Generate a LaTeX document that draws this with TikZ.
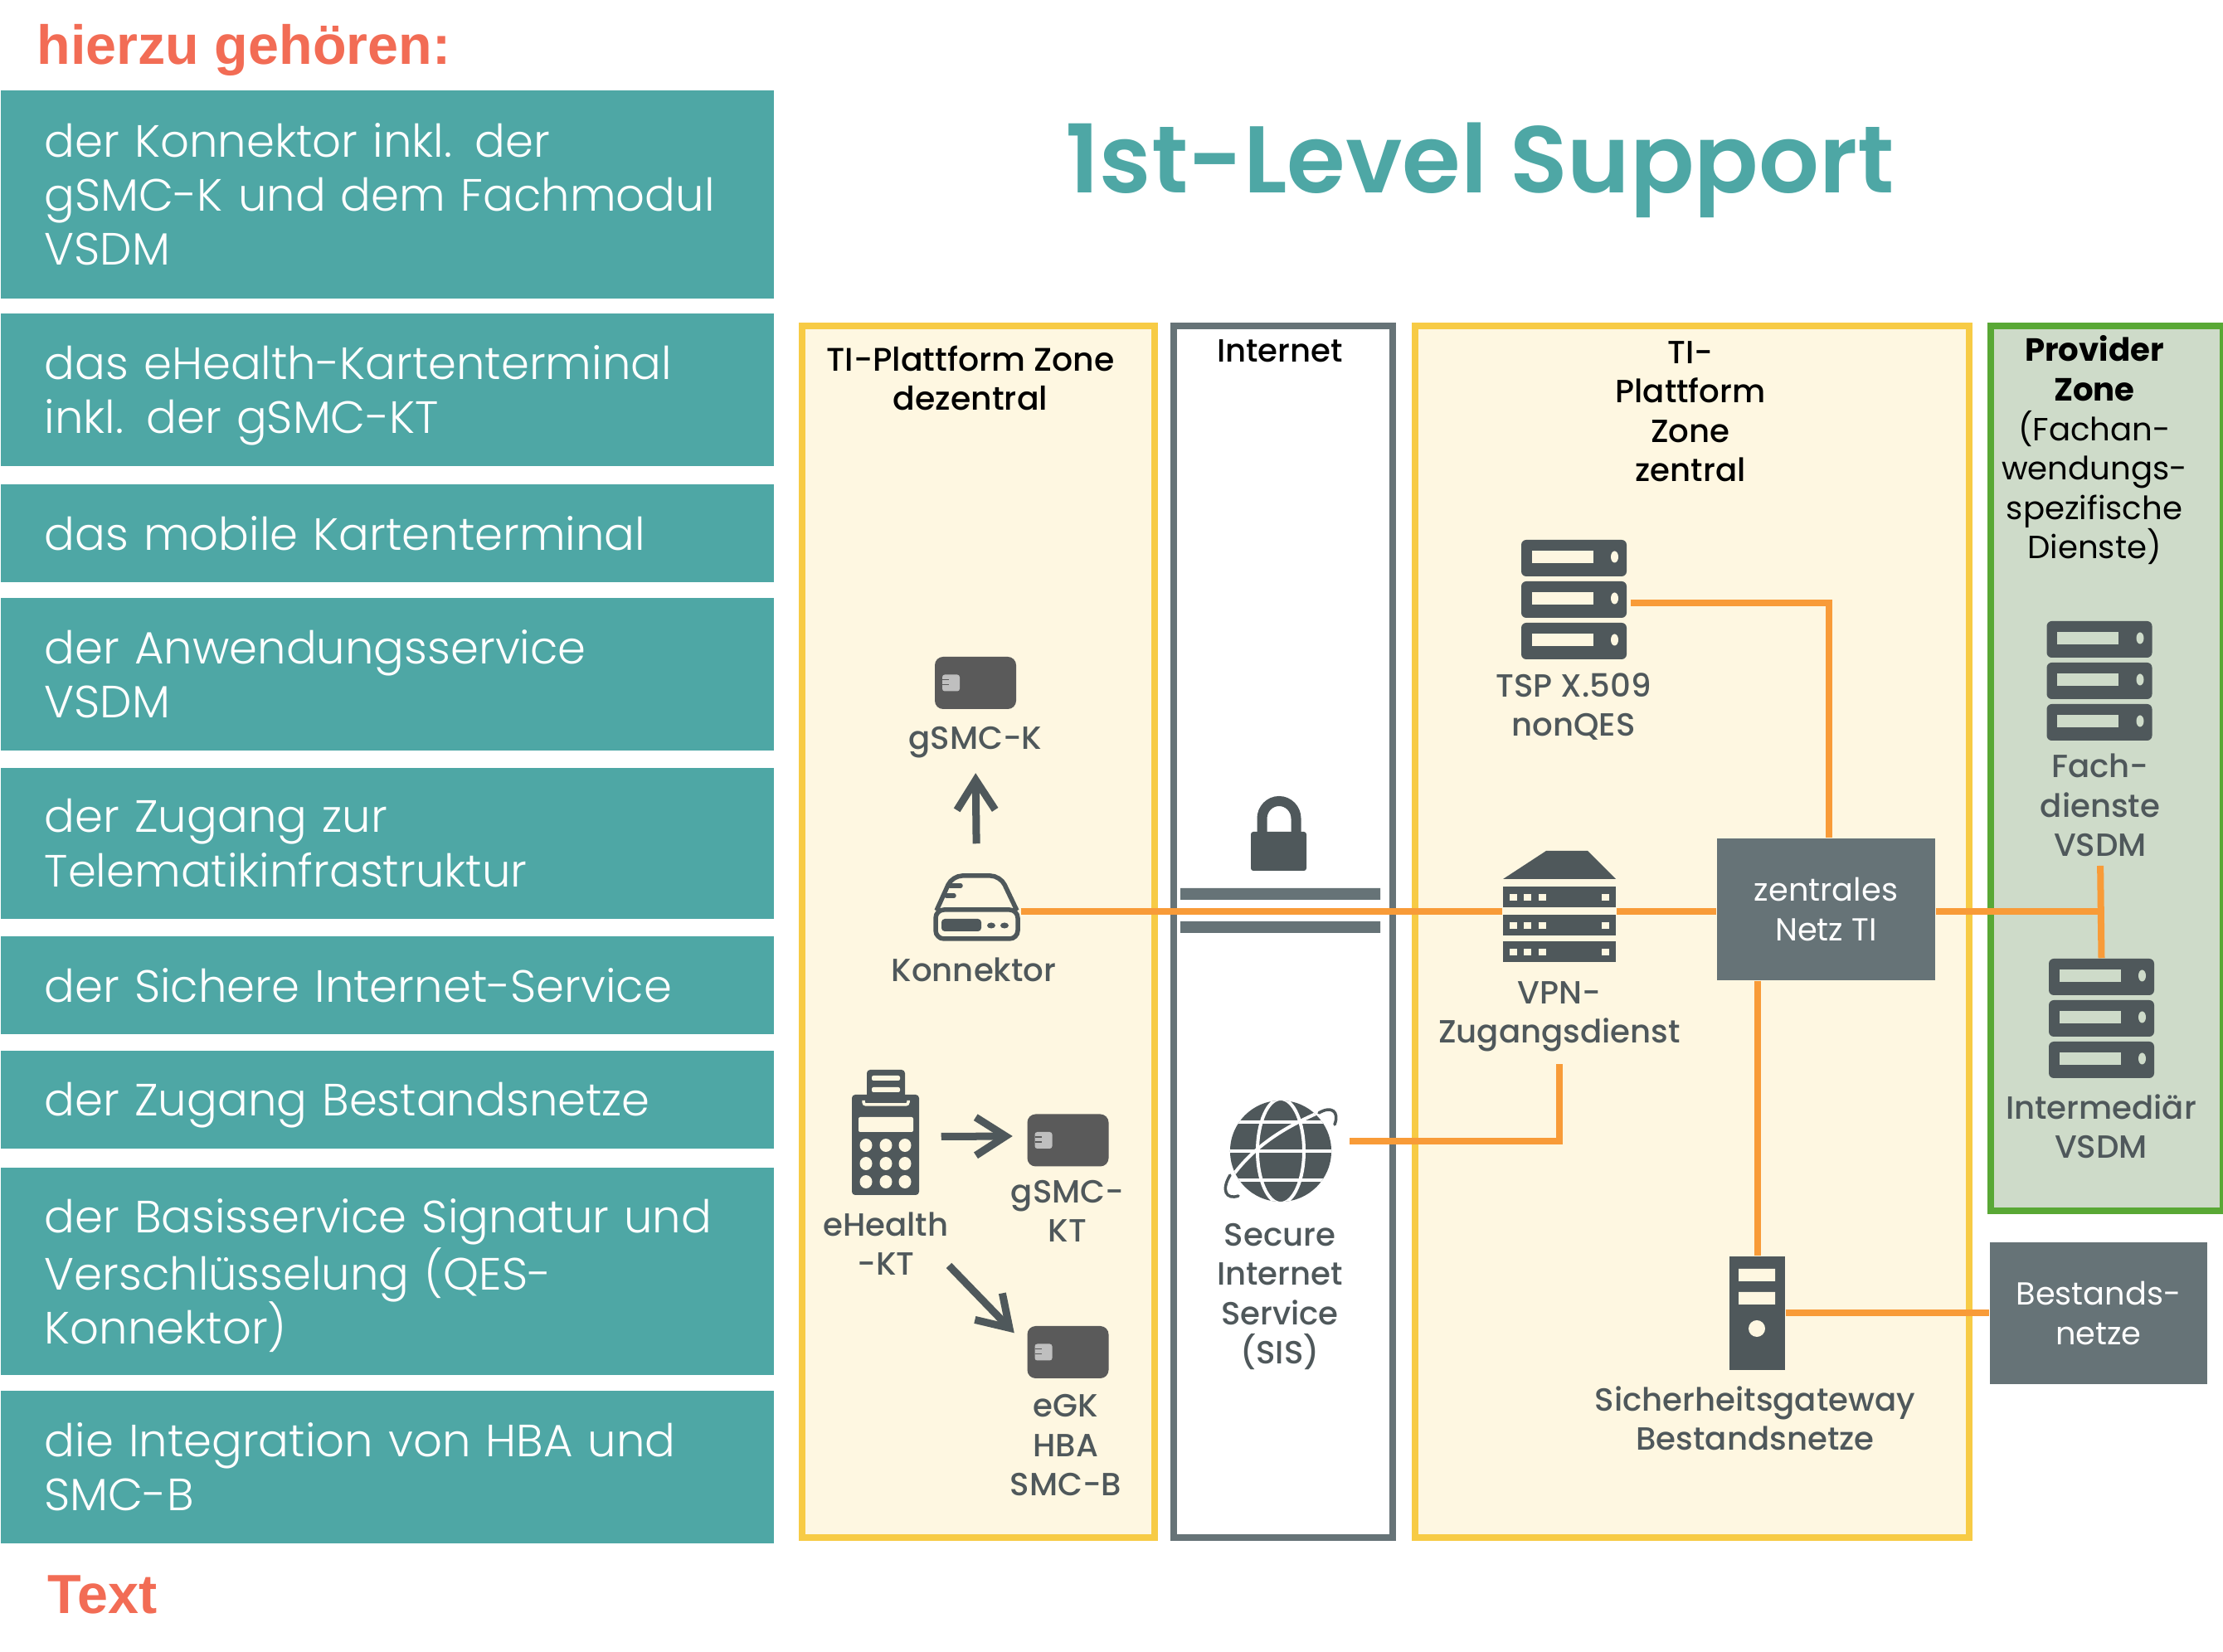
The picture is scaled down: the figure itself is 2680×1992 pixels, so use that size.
\documentclass[tikz,border=0pt]{standalone}
\usepackage{fontspec}
\setmainfont{Poppins}
\newfontfamily\lightfont{Poppins Light}
\newfontfamily\medfont{Poppins Medium}
\newfontfamily\semifont{Poppins SemiBold}
\newfontfamily\arialfont{Liberation Sans}
\usetikzlibrary{arrows.meta}
\definecolor{tealbar}{HTML}{4EA7A5}
\definecolor{coral}{HTML}{F26C55}
\definecolor{txtdark}{HTML}{4F585B}
\definecolor{boxgray}{HTML}{667377}
\definecolor{cardgray}{HTML}{5A5A5A}
\definecolor{linkorange}{HTML}{F89B38}
\definecolor{zoneyellow}{HTML}{F7CB45}
\definecolor{zonecream}{HTML}{FEF7E1}
\definecolor{zonegreen}{HTML}{59A835}
\definecolor{provfill}{HTML}{CEDBC9}
\tikzset{
  listbar/.style={fill=tealbar,text=white,anchor=north west,inner xsep=.53cm,inner ysep=0,
    text width=8.26cm,align=left,minimum height=#1,font=\lightfont\fontsize{15.5}{18.6}\selectfont},
  zone/.style={draw=zoneyellow,fill=zonecream,line width=.08cm,anchor=north west,inner sep=0},
  lbl/.style={text=txtdark,align=center,inner sep=0,anchor=base,font=\medfont\fontsize{11}{13.55}\selectfont},
  head/.style={lbl,text=black},
  graybox/.style={fill=boxgray,text=white,align=center,inner sep=0,font=\fontsize{10.9}{13.55}\selectfont},
  hold/.style={inner sep=0,minimum width=#1},
  link/.style={draw=linkorange,line width=.08cm},
  tip/.style={draw=txtdark,line width=.09cm,-{Straight Barb[length=.36cm,width=.46cm]}},
  pics/server/.style={code={
    \foreach \r in {-50,0,50} {
      \fill[txtdark,rounded corners=.06cm] (-63.5,\r-22) rectangle (63.5,\r+22);
      \fill[#1] (-51,\r-9) rectangle (23,\r+6);
      \fill[#1] (49,\r-1.5) ellipse[x radius=.045cm,y radius=.07cm];
    }}},
  pics/card/.style={code={
    \fill[cardgray,rounded corners=.1cm] (-49,-31.5) rectangle (49,31.5);
    \fill[black!25,rounded corners=.03cm] (-40,-10) rectangle (-19,10);
    \foreach \r in {-4,2} \draw[cardgray,line width=.012cm] (-40,\r) -- (-32,\r);
    }},
}
\begin{document}
\begin{tikzpicture}[x=.01cm,y=-.01cm]
  \useasboundingbox (0,0) rectangle (2680,1992);
  % left column
  \node (hier) [anchor=base west,inner sep=0,text=coral,font=\arialfont\bfseries\fontsize{18.9}{22}\selectfont] at (44,78) {hierzu gehören:};
  \node (barA) [listbar=2.51cm] at (0,108) {der Konnektor inkl. der\\gSMC-K und dem Fachmodul\\VSDM};
  \node (barB) [listbar=1.84cm] at (0,377) {das eHealth-Kartenterminal\\\smash{inkl. der gSMC-KT}};
  \node (barC) [listbar=1.18cm] at (0,583) {das mobile Kartenterminal};
  \node (barD) [listbar=1.84cm] at (0,720) {der Anwendungsservice\\VSDM};
  \node (barE) [listbar=1.82cm] at (0,925) {der Zugang zur\\Telematikinfrastruktur};
  \node (barF) [listbar=1.18cm] at (0,1128) {der Sichere Internet-Service};
  \node (barG) [listbar=1.18cm,text depth=0pt] at (0,1266) {der Zugang Bestandsnetze};
  \node (barH) [listbar=2.50cm] at (0,1407) {der Basisservice Signatur und\\Verschlüsselung (QES-\\\smash{Konnektor)}};
  \node (barI) [listbar=1.84cm] at (0,1676) {die Integration von HBA und\\SMC-B};
  \node (txt) [anchor=base west,inner sep=0,text=coral,font=\arialfont\bfseries\fontsize{18.9}{22}\selectfont] at (57,1946) {Text};
  \node (title) [anchor=base,inner sep=0,text=tealbar,font=\semifont\fontsize{32.5}{40}\selectfont] at (1784,233) {1st-Level Support};
  % zones
  \node (zoneDez) [zone,minimum width=4.245cm,minimum height=14.6cm] at (963,389) {};
  \node (zoneNet) [zone,draw=boxgray,fill=white,minimum width=2.64cm,minimum height=14.6cm] at (1411,389) {};
  \node (zoneZen) [zone,minimum width=6.68cm,minimum height=14.6cm] at (1701.5,389) {};
  \node (zoneProv) [zone,draw=zonegreen,fill=provfill,minimum width=2.795cm,minimum height=10.66cm] at (2396,389) {};
  \node (hDez) [head,font=\medfont\fontsize{11.2}{13.55}\selectfont] at (1170,495) {TI-Plattform Zone\\dezentral};
  \node (hNet) [head] at (1543,437) {Internet};
  \node (hZen) [head] at (2038,581) {TI-\\Plattform\\Zone\\zentral};
  \node (hProv) [head,font=\fontsize{11}{13.55}\selectfont] at (2525,674) {\textbf{Provider}\\\textbf{Zone}\\(Fachan-\\wendungs-\\spezifische\\Dienste)};
  % lock and bars
  \fill[boxgray] (1423,1071) rectangle (1664,1085) (1423,1111) rectangle (1664,1125);
  \fill[txtdark,rounded corners=.03cm] (1508,1003) rectangle (1575,1050);
  \draw[txtdark,line width=.12cm] (1521.5,1005) -- (1521.5,987) arc[start angle=180,end angle=0,x radius=.205cm,y radius=.21cm] -- (1562.5,1005);
  % nodes holding the icons
  \node (netz) [graybox,minimum width=2.63cm,minimum height=1.71cm] at (2201.5,1096.5) {zentrales\\Netz TI};
  \node (best) [graybox,minimum width=2.62cm,minimum height=1.71cm] at (2530,1583.5) {Bestands-\\netze};
  \node (konn) [hold=1.05cm,minimum height=.82cm] at (1177.5,1094) {};
  \node (ckey) [hold=.98cm,minimum height=.63cm] at (1176,823.5) {};
  \node (ckt) [hold=.98cm,minimum height=.63cm] at (1287.5,1375) {};
  \node (cegk) [hold=.98cm,minimum height=.63cm] at (1287.5,1630.5) {};
  \node (ekt) [hold=.81cm,minimum height=1.51cm] at (1067.5,1365.5) {};
  \node (tsp) [hold=1.27cm,minimum height=1.44cm] at (1897.5,723) {};
  \node (vpn) [hold=1.36cm,minimum height=1.34cm] at (1880,1093) {};
  \node (gw) [hold=.67cm,minimum height=1.37cm] at (2118.5,1583.5) {};
  \node (fach) [hold=1.27cm,minimum height=1.44cm] at (2531,821) {};
  \node (inter) [hold=1.27cm,minimum height=1.44cm] at (2533.5,1228) {};
  \node (sis) [hold=1.23cm,minimum height=1.23cm] at (1544,1388) {};
  % labels
  \node (lKey) [lbl] at (1176,904) {gSMC-K};
  \node (lKonn) [lbl] at (1174,1184) {Konnektor};
  \node (lEkt) [lbl] at (1068,1538) {eHealth\\-KT};
  \node (lCkt) [lbl] at (1287,1498) {gSMC-\\KT};
  \node (lEgk) [lbl] at (1285,1804) {eGK\\HBA\\SMC-B};
  \node (lSis) [lbl] at (1543,1645) {Secure\\Internet\\Service\\(SIS)};
  \node (lTsp) [lbl] at (1897,888) {TSP X.509\\nonQES};
  \node (lVpn) [lbl] at (1880,1258) {VPN-\\Zugangsdienst};
  \node (lGw) [lbl] at (2116,1749) {Sicherheitsgateway\\Bestandsnetze};
  \node (lFach) [lbl] at (2532,1033) {Fach-\\dienste\\VSDM};
  \node (lInter) [lbl] at (2533,1397) {Intermediär\\VSDM};
  % connectors
  \coordinate (main) at (0,1099);
  \coordinate (ektout) at (1144,1526);
  \coordinate (sisout) at (1627,1376);
  \draw[link] (konn.east |- main) -- (vpn.west |- main);
  \draw[link] (vpn.east |- main) -- (netz.west |- main);
  \draw[link] (netz.east |- main) -- (lFach.south |- main);
  \draw[link,shorten <=.1cm] (lFach.south) -- (inter.north);
  \draw[link] ([shift={(.04cm,-.04cm)}]tsp.east) -| ([xshift=.035cm]netz.north);
  \draw[link] (netz.south -| gw.north) -- (gw.north);
  \draw[link] (gw.east) -- (best.west);
  \draw[link,shorten >=.14cm] (sisout) -| (lVpn.south);
  \draw[tip,shorten <=.35cm,shorten >=.17cm] (konn.north) -- (lKey.south);
  \draw[tip] ([shift={(.26cm,-.05cm)}]ekt.east) -- ([shift={(-.17cm,.05cm)}]ckt.west);
  \draw[tip] (ektout) -- ([shift={(-.15cm,-.09cm)}]cegk.north west);
  % icons
  \pic at (ckey) {card};
  \pic at (ckt) {card};
  \pic at (cegk) {card};
  \pic at (tsp) {server=zonecream};
  \pic at (fach) {server=provfill};
  \pic at (inter) {server=provfill};
  \draw[txtdark,line width=.055cm,rounded corners=.12cm] (1129,1098) -- (1148,1056) -- (1206,1056) -- (1226,1098);
  \draw[txtdark,line width=.055cm,rounded corners=.1cm] (1128,1097) rectangle (1227,1132);
  \draw[txtdark,line width=.055cm,line cap=round] (1145,1068) -- (1158,1068) (1141,1080) -- (1150,1080);
  \fill[txtdark,rounded corners=.04cm] (1135,1108) rectangle (1183,1123);
  \fill[txtdark] (1195,1116) ellipse[x radius=.05cm,y radius=.035cm] (1211,1116) ellipse[x radius=.05cm,y radius=.035cm];
  % card terminal
  \fill[txtdark,rounded corners=.04cm] (1045,1290) rectangle (1091,1325);
  \fill[zonecream,rounded corners=.02cm] (1051,1297) rectangle (1085,1303) (1051,1311) rectangle (1085,1317);
  \fill[txtdark,rounded corners=.04cm] (1027,1320) rectangle (1108,1441);
  \draw[zonecream,line width=.035cm,rounded corners=.03cm] (1041,1327) -- (1041,1332) -- (1095,1332) -- (1095,1327);
  \fill[zonecream,rounded corners=.02cm] (1035,1347) rectangle (1101,1365);
  \foreach \kx in {1044,1068,1091} \foreach \ky in {1381,1403,1425}
    \fill[zonecream] (\kx,\ky) ellipse[x radius=.075cm,y radius=.08cm];
  % vpn access
  \fill[txtdark] (1812,1060) -- (1864,1026) -- (1914,1026) -- (1948,1060) -- cycle;
  \foreach \ry in {1069,1103,1135} {
    \fill[txtdark] (1812,\ry) rectangle (1948,\ry+25);
    \foreach \sx in {1820,1837,1855,1931}
      \fill[zonecream] (\sx,\ry+9) rectangle (\sx+9,\ry+17);
  }
  % gateway
  \fill[txtdark] (2085,1515) rectangle (2152,1652);
  \fill[zonecream] (2096,1530) rectangle (2140,1545) (2096,1558) rectangle (2140,1573);
  \fill[zonecream] (2118,1602) circle[radius=.1cm];
  % globe
  \begin{scope}
    \fill[txtdark] (sis) circle[radius=.61cm];
    \clip (sis) circle[radius=.61cm];
    \draw[white,line width=.04cm] (1480,1353) -- (1610,1353) (1480,1388) -- (1610,1388) (1480,1423) -- (1610,1423);
    \draw[white,line width=.04cm] (sis) ellipse[x radius=.28cm,y radius=.63cm];
    \draw[white,line width=.04cm] (1488,1415) .. controls (1515,1380) and (1550,1358) .. (1598,1338);
  \end{scope}
  \draw[txtdark,line width=.035cm,line cap=round] (1483,1417) .. controls (1472,1435) and (1478,1447) .. (1493,1442);
  \draw[txtdark,line width=.035cm,line cap=round] (1590,1342) .. controls (1605,1333) and (1615,1340) .. (1609,1356);
\end{tikzpicture}
\end{document}
